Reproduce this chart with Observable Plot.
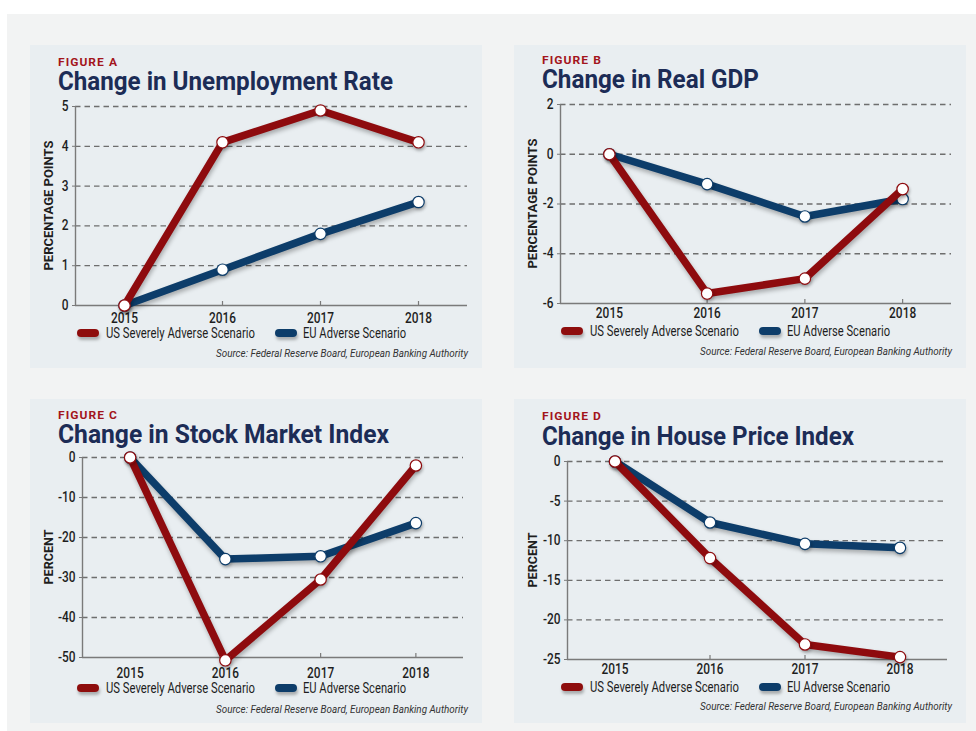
<!DOCTYPE html>
<html>
<head>
<meta charset="utf-8">
<script src="https://cdn.jsdelivr.net/npm/d3@7"></script>
<script src="https://cdn.jsdelivr.net/npm/@observablehq/plot@0.6"></script>
<style>
  html, body { margin: 0; padding: 0; }
  body { width: 976px; height: 731px; overflow: hidden; position: relative; background: #ffffff; font-family: Roboto, "Liberation Sans", sans-serif; }
  #bg { position: absolute; left: 7px; top: 14px; width: 969px; height: 717px; background: #f2f3f3; }
  .panel { position: absolute; background: #e9eef1; }
  .plotbox { position: absolute; }
  .plotbox svg { overflow: visible; }
  #overlay { position: absolute; left: 0; top: 0; pointer-events: none; }
</style>
</head>
<body>
<div id="bg"></div>
<div id="root"></div>
<script>
// ---------------- data ----------------
const years = [2015, 2016, 2017, 2018];
const seriesNames = ["US Severely Adverse Scenario", "EU Adverse Scenario"];

const unemploymentUS = [0, 4.1, 4.9, 4.1];
const unemploymentEU = [0, 0.9, 1.8, 2.6];
const gdpUS = [0, -5.6, -5.0, -1.4];
const gdpEU = [0, -1.2, -2.5, -1.8];
const stockUS = [0, -50.7, -30.5, -2.0];
const stockEU = [0, -25.4, -24.7, -16.4];
const houseUS = [0, -12.2, -23.1, -24.7];
const houseEU = [0, -7.7, -10.4, -10.9];

const unemploymentTicks = [0, 1, 2, 3, 4, 5];
const gdpTicks = [-6, -4, -2, 0, 2];
const stockTicks = [-50, -40, -30, -20, -10, 0];
const houseTicks = [-25, -20, -15, -10, -5, 0];

const figureLabels = ["FIGURE A", "FIGURE B", "FIGURE C", "FIGURE D"];
const titles = ["Change in Unemployment Rate", "Change in Real GDP", "Change in Stock Market Index", "Change in House Price Index"];
const yLabels = ["PERCENTAGE POINTS", "PERCENTAGE POINTS", "PERCENT", "PERCENT"];
const sourceText = "Source: Federal Reserve Board, European Banking Authority";

// ---------------- styles ----------------
const RED = "#8e0b0e";
const BLUE = "#0d3d6a";
const GRID = "#6e6e6e";
const AXIS = "#7a7a7a";

// ---------------- layout ----------------
const panels = [
  { px: 30,  py: 45,  pw: 452, ph: 323, us: unemploymentUS, eu: unemploymentEU, ticks: unemploymentTicks,
    plot: { l: 75, r: 467, t: 106, b: 305 }, xBase: 322, figBase: 66, titleBase: 90, titleW: 335, ylx: 49,
    legY: 333, legBase: 338, srcBase: 357 },
  { px: 514, py: 45,  pw: 452, ph: 323, us: gdpUS, eu: gdpEU, ticks: gdpTicks,
    plot: { l: 560, r: 951, t: 104, b: 303 }, xBase: 317, figBase: 64, titleBase: 88, titleW: 217, ylx: 533,
    legY: 331, legBase: 336, srcBase: 355 },
  { px: 30,  py: 399, pw: 452, ph: 324, us: stockUS, eu: stockEU, ticks: stockTicks,
    plot: { l: 82, r: 463, t: 457, b: 657 }, xBase: 677, figBase: 419, titleBase: 443, titleW: 331, ylx: 49,
    legY: 688, legBase: 693, srcBase: 713 },
  { px: 514, py: 399, pw: 452, ph: 324, us: houseUS, eu: houseEU, ticks: houseTicks,
    plot: { l: 567, r: 947, t: 461, b: 659 }, xBase: 673, figBase: 420, titleBase: 445, titleW: 312, ylx: 533,
    legY: 687, legBase: 692, srcBase: 710 }
];

const root = document.getElementById("root");

function condenseTexts(svg, selector, factor) {
  svg.querySelectorAll(selector).forEach(t => {
    const w = t.getComputedTextLength();
    if (w > 0) {
      t.setAttribute("textLength", (w * factor).toFixed(2));
      t.setAttribute("lengthAdjust", "spacingAndGlyphs");
    }
  });
}

panels.forEach((p, i) => {
  const panel = document.createElement("div");
  panel.className = "panel";
  Object.assign(panel.style, { left: p.px + "px", top: p.py + "px", width: p.pw + "px", height: p.ph + "px" });
  root.appendChild(panel);

  const svgTop = p.plot.t - 14;
  const svgBottom = p.plot.b + 30;
  const mLeft = p.plot.l - p.px, mRight = (p.px + p.pw) - p.plot.r;
  const mTop = p.plot.t - svgTop, mBottom = svgBottom - p.plot.b;
  const domain = [d3.min(p.ticks), d3.max(p.ticks)];
  const span = domain[1] - domain[0];
  const xDomain = [years[0] - 0.5, years[years.length - 1] + 0.5];
  const fs = 14;
  const xPad = (p.xBase - p.plot.b) - 0.71 * fs;

  const eu = years.map((y, k) => ({ year: y, value: p.eu[k], s: seriesNames[1] }));
  const us = years.map((y, k) => ({ year: y, value: p.us[k], s: seriesNames[0] }));

  const chart = Plot.plot({
    width: p.pw,
    height: svgBottom - svgTop,
    marginLeft: mLeft, marginRight: mRight, marginTop: mTop, marginBottom: mBottom,
    style: { background: "transparent", fontFamily: "Roboto, 'Liberation Sans', sans-serif", fontSize: fs + "px", fontWeight: 500, color: "#1e1e1e", overflow: "visible" },
    x: { type: "linear", domain: xDomain },
    y: { type: "linear", domain: domain },
    marks: [
      Plot.ruleY(p.ticks.filter(t => t !== domain[0]), { stroke: GRID, strokeWidth: 1.3, strokeDasharray: "5.5,4" }),
      Plot.ruleY([domain[0]], { stroke: AXIS, strokeWidth: 1.4 }),
      Plot.ruleX([xDomain[0]], { stroke: AXIS, strokeWidth: 1.4 }),
      Plot.ruleX(years.slice(1), { x: d => d, y1: domain[0], y2: domain[0] + span * 0.02, stroke: AXIS, strokeWidth: 1.2 }),
      Plot.axisY({ ticks: p.ticks, tickSize: 3, tickPadding: 4, label: null, tickFormat: d => String(d), stroke: AXIS }),
      Plot.axisX({ ticks: years, tickSize: 0, tickPadding: xPad, label: null, tickFormat: d => String(d) }),
      Plot.line(eu, { x: "year", y: "value", stroke: BLUE, strokeWidth: 7.5, strokeLinejoin: "round", strokeLinecap: "round" }),
      Plot.dot(eu, { x: "year", y: "value", r: 5.7, fill: "white", stroke: BLUE, strokeWidth: 1.2 }),
      Plot.line(us, { x: "year", y: "value", stroke: RED, strokeWidth: 7.5, strokeLinejoin: "round", strokeLinecap: "round" }),
      Plot.dot(us, { x: "year", y: "value", r: 5.7, fill: "white", stroke: RED, strokeWidth: 1.2 })
    ]
  });

  const box = document.createElement("div");
  box.className = "plotbox";
  Object.assign(box.style, { left: p.px + "px", top: svgTop + "px" });
  box.appendChild(chart);
  root.appendChild(box);

  chart.querySelectorAll('g[aria-label="line"]').forEach(g => g.style.filter = "drop-shadow(1px 3px 2px rgba(0,0,0,0.28))");
  chart.querySelectorAll('g[aria-label="dot"]').forEach(g => g.style.filter = "drop-shadow(1px 2px 1.5px rgba(0,0,0,0.22))");
  condenseTexts(chart, 'g[aria-label="x-axis tick label"] text', 0.85);
  condenseTexts(chart, 'g[aria-label="y-axis tick label"] text', 0.85);
});

// ---------------- overlay text (titles, legends, sources) ----------------
const overlay = d3.select("body").append("svg")
  .attr("id", "overlay").attr("width", 976).attr("height", 731)
  .style("font-family", "Roboto, 'Liberation Sans', sans-serif");

const defs = overlay.append("defs");
const f = defs.append("filter").attr("id", "swsh").attr("filterUnits", "userSpaceOnUse")
  .attr("x", 0).attr("y", 0).attr("width", 976).attr("height", 731);
f.append("feDropShadow").attr("dx", 1).attr("dy", 3).attr("stdDeviation", 1.8).attr("flood-color", "#000").attr("flood-opacity", 0.28);

function fitText(sel, w) {
  sel.attr("textLength", w).attr("lengthAdjust", "spacingAndGlyphs");
  return sel;
}

panels.forEach((p, i) => {
  const x0 = p.px + 28;
  fitText(overlay.append("text").attr("x", x0).attr("y", p.figBase)
    .attr("font-size", 11.5).attr("font-weight", 700).attr("fill", "#a3151c").attr("letter-spacing", 1).text(figureLabels[i]), 60);
  fitText(overlay.append("text").attr("x", x0).attr("y", p.titleBase)
    .attr("font-size", 26).attr("font-weight", 700).attr("fill", "#1c2c56").text(titles[i]), p.titleW);

  const cy = (p.plot.t + p.plot.b) / 2;
  const yl = overlay.append("text").attr("transform", `translate(${p.ylx + 4},${cy}) rotate(-90)`)
    .attr("text-anchor", "middle").attr("font-size", 12.5).attr("font-weight", 700).attr("fill", "#1e1e1e").text(yLabels[i]);
  fitText(yl, yLabels[i].length > 10 ? 130 : 55);

  const lx = p.px + 47;
  const items = [
    { name: seriesNames[0], color: RED, sx: lx, tx: lx + 29, w: 149 },
    { name: seriesNames[1], color: BLUE, sx: lx + 198, tx: lx + 226, w: 103 }
  ];
  items.forEach(it => {
    overlay.append("rect").attr("x", it.sx).attr("y", p.legY - 4).attr("width", 22).attr("height", 8).attr("rx", 4)
      .attr("fill", it.color).attr("filter", "url(#swsh)");
    fitText(overlay.append("text").attr("x", it.tx).attr("y", p.legBase)
      .attr("font-size", 14.5).attr("fill", "#1e1e1e").text(it.name), it.w);
  });

  fitText(overlay.append("text").attr("x", p.px + p.pw - 14).attr("y", p.srcBase).attr("text-anchor", "end")
    .attr("font-size", 10.5).attr("font-style", "italic").attr("fill", "#333").text(sourceText), 252);
});
</script>
</body>
</html>
